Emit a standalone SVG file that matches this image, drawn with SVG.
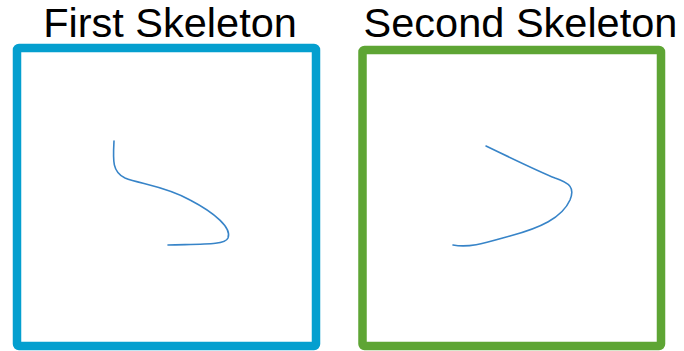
<svg xmlns="http://www.w3.org/2000/svg" width="684" height="351" viewBox="0 0 684 351">
<style>
.title{font-family:"Liberation Sans",Arial,sans-serif;font-size:41.5px;fill:#000;text-anchor:middle}
.frame{fill:none;stroke-width:8.5}
.curve{fill:none;stroke:#3784c8;stroke-width:1.6;stroke-linecap:round}
</style>
<rect width="684" height="351" fill="#fff"/>
<g id="first">
<text class="title" x="170" y="37">First Skeleton</text>
<rect class="frame" x="17" y="48" width="299" height="298" rx="2" stroke="#049fcf"/>
<path class="curve" d="M114,141 C113,160 112,172 125,178 C140,184 165,186 190,200 C215,213 232,228 228,238 C225,245 205,244 168,245"/>
</g>
<g id="second">
<text class="title" x="520.5" y="37">Second Skeleton</text>
<rect class="frame" x="362.5" y="50" width="298.5" height="296" rx="2" stroke="#5ea534"/>
<path class="curve" d="M486,146 C515,160 540,172 555,178 C570,183 575,188 570,200 C562,218 540,228 510,236 C485,243 470,248 453,245"/>
</g>
<g id="connectors"/>
</svg>
